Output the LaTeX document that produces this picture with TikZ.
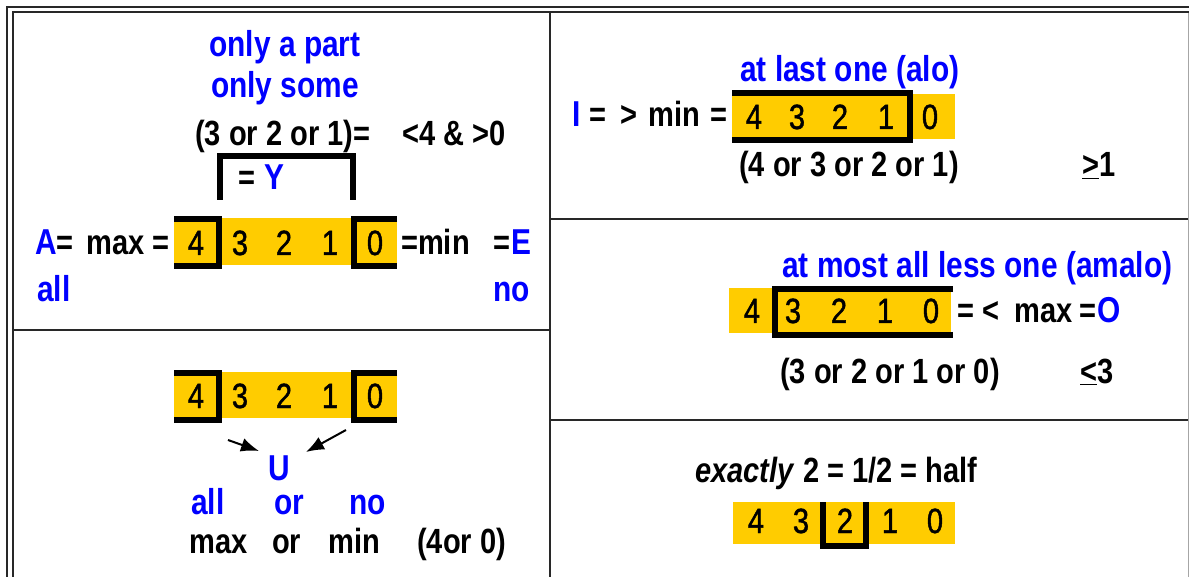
\documentclass[tikz,border=0pt]{standalone}
\usepackage{fontspec}
\setmainfont{Liberation Sans}
\newfontfamily\narrowsans{Liberation Sans}[FakeStretch=0.83]
\newfontfamily\digitsans{Liberation Sans}[FakeStretch=0.83, FakeBold=1.2]
\usetikzlibrary{arrows.meta}
\definecolor{qblue}{RGB}{0,0,255}
\definecolor{qyellow}{RGB}{255,204,0}
\definecolor{frameline}{RGB}{40,40,40}
\tikzset{
  txt/.style={inner sep=0pt, anchor=base west, font=\narrowsans\fontsize{35}{40}\selectfont\bfseries},
  btxt/.style={txt, text=qblue, font=\narrowsans\fontsize{36}{42}\selectfont\bfseries},
  dig/.style={inner sep=0pt, anchor=base, font=\digitsans\fontsize{35}{40}\selectfont},
  band/.style={fill=qyellow, draw=none},
  brk/.style={line width=6pt, line cap=butt, line join=miter},
  frm/.style={line width=2pt, draw=frameline},
  cell/.style={line width=2pt, draw=frameline},
  ptr/.style={line width=2pt, -{Latex[length=18pt,width=14pt]}}
}
\begin{document}
\begin{tikzpicture}[x=1pt,y=-1pt]
\useasboundingbox (0,0) rectangle (1189,577);
\clip (0,0) rectangle (1189,577);

% double outer frame and cell dividers
\draw[frm] (7,600) -- (7,7) -- (1200,7);
\draw[frm] (12.5,600) -- (12.5,12.5) -- (1200,12.5);
\draw[line width=1pt, draw=black!35] (1188.3,13.5) -- (1188.3,600);
\draw[cell] (550,12.5) -- (550,600);
\draw[cell] (12.5,330) -- (550,330);
\draw[cell] (550,219.5) -- (1188,219.5);
\draw[cell] (550,419.5) -- (1188,419.5);

% ---------- top left: A / E / Y ----------
\node[btxt, anchor=base] (part) at (285,57) {only a part};
\node[btxt, anchor=base] (some) at (285,98) {only some};
\node[txt] (mid) at (195,146) {(3 or 2 or 1)=};
\node[txt] (bounds) at (402,146) {<4 \& >0};
\draw[brk] (220,200) -- (220,156) -- (353,156) -- (353,200);
\node[txt] (yeq) at (238,190) {=};
\node[btxt] (Y) at (264,190) {Y};

\fill[band] (174,218) rectangle (397,265);
\foreach \d/\x in {4/196,3/240,2/284,1/330,0/375}
  \node[dig] (a\d) at (\x,255) {\d};
\draw[brk] (174,219.5) -- (218.5,219.5) -- (218.5,266.5) -- (174,266.5);
\draw[brk] (397,219.5) -- (353.5,219.5) -- (353.5,266.5) -- (397,266.5);
\node[btxt] (A) at (35,255) {A};
\node[txt] (Aeq) at (56,255) {=};
\node[txt] (max) at (86,255) {max =};
\node[txt] (min) at (401,255) {=min};
\node[txt] (Eeq) at (493,255) {=};
\node[btxt] (E) at (511,255) {E};
\node[btxt] (all) at (37,302) {all};
\node[btxt] (no) at (493,302) {no};

% ---------- bottom left: U ----------
\fill[band] (174,372) rectangle (397,418);
\foreach \d/\x in {4/196,3/240,2/284,1/330,0/375}
  \node[dig] (u\d) at (\x,408) {\d};
\draw[brk] (174,372.5) -- (218.5,372.5) -- (218.5,419.5) -- (174,419.5);
\draw[brk] (397,372.5) -- (353.5,372.5) -- (353.5,419.5) -- (397,419.5);
\coordinate (la) at (228,440);
\coordinate (ra) at (346,430);
\node[btxt, anchor=base] (U) at (279,480) {U};
\coordinate (lt) at (259,451);
\coordinate (rt) at (306,452);
\draw[ptr] (la) -- (lt);
\draw[ptr] (ra) -- (rt);
\node[btxt] (uall) at (191,514) {all};
\node[btxt] (uor) at (274,514) {or};
\node[btxt] (uno) at (349,514) {no};
\node[txt] (umax) at (189,553) {max};
\node[txt] (uor2) at (272,553) {or};
\node[txt] (umin) at (328,553) {min};
\node[txt] (uval) at (417,553) {(4or 0)};

% ---------- top right: I ----------
\node[btxt] (alo) at (740,82) {at last one (alo)};
\node[btxt] (I) at (572,127) {I};
\node[txt] (ieq) at (589,127) {=};
\node[txt] (igt) at (620,127) {>};
\node[txt] (imin) at (648,127) {min};
\node[txt] (ieq2) at (710,127) {=};
\fill[band] (732,94) rectangle (955,139);
\foreach \d/\x in {4/754,3/797,2/840,1/886,0/930}
  \node[dig] (i\d) at (\x,129) {\d};
\draw[brk] (732,93.5) -- (910,93.5) -- (910,140) -- (732,140);
\node[txt] (ilist) at (739,177) {(4 or 3 or 2 or 1)};
\node[txt] (ige) at (1082,177) {\underline{>}1};

% ---------- middle right: O ----------
\node[btxt] (amalo) at (782,278) {at most all less one (amalo)};
\fill[band] (729,288) rectangle (951,333);
\foreach \d/\x in {4/752,3/793,2/839,1/885,0/931}
  \node[dig] (o\d) at (\x,323) {\d};
\draw[brk] (953,289) -- (775,289) -- (775,335) -- (953,335);
\node[txt] (oeq) at (957,323) {=};
\node[txt] (olt) at (982,323) {<};
\node[txt] (omax) at (1014,323) {max};
\node[txt] (oeq2) at (1079,323) {=};
\node[btxt] (O) at (1097,323) {O};
\node[txt] (olist) at (780,383) {(3 or 2 or 1 or 0)};
\node[txt] (ole) at (1080,383) {\underline{<}3};

% ---------- bottom right: half ----------
\node[txt] (half) at (695,482) {\textit{exactly} 2 = 1/2 = half};
\fill[band] (733,502) rectangle (955,544);
\foreach \d/\x in {4/756,3/801,2/845,1/890,0/935}
  \node[dig] (h\d) at (\x,533) {\d};
\draw[brk] (823,502) -- (823,546) -- (866,546) -- (866,502);
\end{tikzpicture}
\end{document}
